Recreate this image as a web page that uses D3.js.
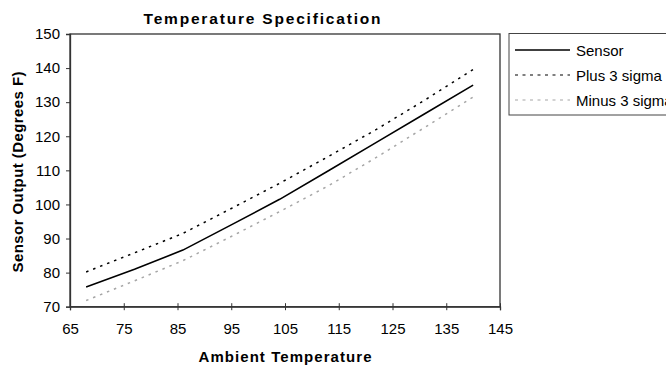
<!DOCTYPE html>
<html>
<head>
<meta charset="utf-8">
<script src="https://cdn.jsdelivr.net/npm/d3@7"></script>
<style>
  body { margin: 0; background: #fff; }
  svg { display: block; font-family: "Liberation Sans", Arial, sans-serif; }
  .tick-label { font-size: 15px; fill: #000; }
  .bold { font-weight: bold; fill: #000; }
</style>
</head>
<body>
<div id="chart"></div>
<script>
// data
const temps = [68, 77, 86, 95, 104, 113, 122, 131, 140];
const sensor = [75.8, 81.0, 86.6, 94.0, 101.5, 109.8, 118.2, 126.6, 135.0];
const plus3 = [80.2, 85.8, 91.5, 98.8, 106.2, 114.0, 122.0, 130.6, 139.6];
const minus3 = [71.8, 77.6, 83.5, 90.6, 97.9, 105.4, 113.8, 122.6, 131.5];
const xTicks = [65, 75, 85, 95, 105, 115, 125, 135, 145];
const yTicks = [70, 80, 90, 100, 110, 120, 130, 140, 150];

const seriesNames = ["Sensor", "Plus 3 sigma", "Minus 3 sigma"];
const seriesValues = [sensor, plus3, minus3];
const seriesStyle = [
  { color: "#000", width: 1.6, dash: null },
  { color: "#000", width: 1.5, dash: "2.5,5" },
  { color: "#a6a6a6", width: 1.5, dash: "2.5,5" },
];

const outerWidth = 666;
const outerHeight = 365;
const margin = { top: 34, right: 166, bottom: 58, left: 70 };
const width = 500 - margin.left;
const height = 306.7 - margin.top;

const svg = d3
  .select("#chart")
  .append("svg")
  .attr("width", outerWidth)
  .attr("height", outerHeight);

const chart = svg.append("g").attr("transform", `translate(${margin.left}, ${margin.top})`);

// scales
const xScale = d3.scaleLinear().domain([65, 145]).range([0, width]);
const yScale = d3.scaleLinear().domain([70, 150]).range([height, 0]);

// plot frame
chart
  .append("rect")
  .attr("width", width)
  .attr("height", height)
  .attr("fill", "none")
  .attr("stroke", "#333")
  .attr("stroke-width", 1.3);

// y axis
const yAxis = chart
  .append("g")
  .call(d3.axisLeft(yScale).tickValues(yTicks).tickSize(4).tickPadding(6));
yAxis.select(".domain").attr("stroke", "#333").attr("stroke-width", 1.3);
yAxis.selectAll(".tick line").attr("stroke", "#333");
yAxis.selectAll(".tick text").attr("class", "tick-label").attr("font-size", null);

// x axis, ticks cross the line
const xAxis = chart
  .append("g")
  .attr("transform", `translate(0, ${height})`)
  .call(d3.axisBottom(xScale).tickValues(xTicks).tickSize(3.5).tickPadding(13));
xAxis.select(".domain").attr("stroke", "#333").attr("stroke-width", 1.3);
xAxis.selectAll(".tick line").attr("stroke", "#333").attr("y1", -3.5);
xAxis.selectAll(".tick text").attr("class", "tick-label").attr("font-size", null);
svg.selectAll("g").attr("font-family", null);

// lines
const line = d3
  .line()
  .x((d, i) => xScale(temps[i]))
  .y((d) => yScale(d));

seriesValues.forEach((values, i) => {
  chart
    .append("path")
    .datum(values)
    .attr("fill", "none")
    .attr("stroke", seriesStyle[i].color)
    .attr("stroke-width", seriesStyle[i].width)
    .attr("stroke-dasharray", seriesStyle[i].dash)
    .attr("d", line);
});

// title
svg
  .append("text")
  .attr("class", "bold")
  .attr("x", 262)
  .attr("y", 24)
  .attr("text-anchor", "middle")
  .attr("font-size", 15.5)
  .attr("textLength", 237)
  .attr("lengthAdjust", "spacing")
  .text("Temperature Specification");

// axis titles
svg
  .append("text")
  .attr("class", "bold")
  .attr("x", 285)
  .attr("y", 362)
  .attr("text-anchor", "middle")
  .attr("font-size", 15)
  .attr("textLength", 173)
  .attr("lengthAdjust", "spacing")
  .text("Ambient Temperature");

svg
  .append("text")
  .attr("class", "bold")
  .attr("transform", "translate(23, 172) rotate(-90)")
  .attr("text-anchor", "middle")
  .attr("font-size", 15)
  .attr("textLength", 201)
  .attr("lengthAdjust", "spacing")
  .text("Sensor Output (Degrees F)");

// legend
const legend = svg.append("g").attr("transform", "translate(509, 33.5)");
legend
  .append("rect")
  .attr("width", 170)
  .attr("height", 81.5)
  .attr("fill", "#fff")
  .attr("stroke", "#444")
  .attr("stroke-width", 1);

seriesNames.forEach((name, i) => {
  const y = 16.5 + i * 25;
  legend
    .append("line")
    .attr("x1", 6)
    .attr("x2", 61)
    .attr("y1", y)
    .attr("y2", y)
    .attr("stroke", seriesStyle[i].color)
    .attr("stroke-width", i === 0 ? 1.4 : 1.2)
    .attr("stroke-dasharray", i === 0 ? null : "3,4.5");
  legend
    .append("text")
    .attr("class", "tick-label")
    .attr("x", 67)
    .attr("y", y + 5.5)
    .text(name);
});
</script>
</body>
</html>
